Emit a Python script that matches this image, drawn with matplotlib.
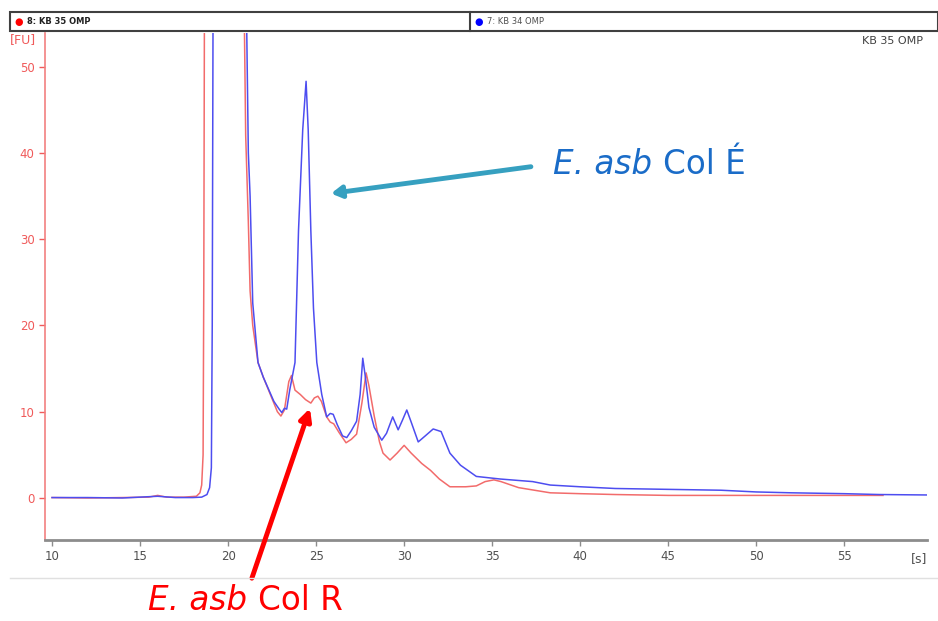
import matplotlib
matplotlib.use("Agg")
import matplotlib.pyplot as plt
from matplotlib.patches import Rectangle
from matplotlib.lines import Line2D

# KB 35 OMP (red) - time [s], fluorescence [FU]
red_t = [10, 12, 14, 15.5, 16, 16.5, 17.5, 18.2, 18.4, 18.5, 18.58, 18.62, 18.66, 18.8,
         20.8, 20.93, 21.0, 21.15, 21.25, 21.4, 21.7, 22.0, 22.3, 22.6, 22.8, 23.0, 23.2,
         23.45, 23.6, 23.8, 24.1, 24.4, 24.7, 24.9, 25.1, 25.3, 25.6, 25.8, 26.0, 26.3,
         26.7, 27.0, 27.3, 27.6, 27.84, 28.0, 28.3, 28.6, 28.8, 29.2, 29.6, 30.0, 30.4,
         31.0, 31.5, 32.0, 32.6, 33.5, 34.1, 34.6, 35.1, 35.5, 36.5, 38.3, 40, 42, 45,
         48, 50, 53, 55, 57.2]
red_fu = [0.05, 0.0, 0.05, 0.1, 0.3, 0.1, 0.1, 0.2, 0.6, 1.5, 5, 25, 60, 150,
          150, 54, 42, 32, 24, 20, 15.7, 14.0, 12.5, 11.0, 10.0, 9.5, 10.2,
          13.5, 14.2, 12.5, 12.0, 11.4, 11.0, 11.6, 11.8, 11.2, 9.4, 8.8, 8.6, 7.6,
          6.4, 6.8, 7.4, 11.0, 14.5, 13.0, 9.5, 6.5, 5.2, 4.4, 5.2, 6.1, 5.2,
          4.0, 3.2, 2.2, 1.3, 1.3, 1.4, 1.9, 2.1, 1.9, 1.2, 0.6, 0.5, 0.4, 0.3,
          0.3, 0.3, 0.3, 0.3, 0.3]

# KB 34 OMP (blue)
blue_t = [10, 12, 14, 16, 17, 18, 18.5, 18.8, 18.95, 19.05, 19.1, 19.15, 19.3,
          20.9, 21.06, 21.15, 21.25, 21.4, 21.7, 22.0, 22.3, 22.6, 22.9, 23.05, 23.2,
          23.33, 23.5, 23.8, 24.0, 24.24, 24.43, 24.55, 24.7, 24.85, 25.04, 25.32, 25.6,
          25.8, 25.97, 26.2, 26.5, 26.74, 27.0, 27.3, 27.5, 27.65, 27.8, 28.0, 28.3,
          28.73, 29.0, 29.35, 29.66, 29.9, 30.15, 30.4, 30.8, 31.2, 31.65, 32.1, 32.6,
          33.2, 34.1, 35.45, 37.3, 38.3, 40, 42, 45, 48, 50, 52, 55, 57, 59.7]
blue_fu = [0.05, 0.05, 0.0, 0.2, 0.05, 0.05, 0.1, 0.4, 1.2, 3.5, 20, 60, 150,
           150, 54, 40, 35, 22.6, 15.7, 14.0, 12.6, 11.2, 10.3, 9.9, 10.4,
           10.3, 12.5, 15.7, 31, 42.7, 48.3, 42.7, 31, 22, 15.7, 12.0, 9.4,
           9.8, 9.7, 8.5, 7.2, 7.0, 7.8, 8.9, 12.0, 16.2, 14.0, 10.5, 8.2,
           6.7, 7.5, 9.4, 7.9, 9.0, 10.2, 8.8, 6.5, 7.2, 8.0, 7.7, 5.2,
           3.8, 2.5, 2.2, 1.9, 1.5, 1.3, 1.1, 1.0, 0.9, 0.7, 0.6, 0.5, 0.4, 0.35]

x_ticks = [10, 15, 20, 25, 30, 35, 40, 45, 50, 55]
y_ticks = [0, 10, 20, 30, 40, 50]

W, H = 938, 621
fig = plt.figure(figsize=(W / 100, H / 100), dpi=100)
ax = fig.add_axes([45 / W, 1 - 540 / H, 882 / W, 507 / H])

ax.plot(red_t, red_fu, color="#f26b6b", lw=1.1)
ax.plot(blue_t, blue_fu, color="#4d4df0", lw=1.1)

ax.set_xlim(9.6, 59.7)
ax.set_ylim(-4.87, 53.9)
ax.set_xticks(x_ticks)
ax.set_yticks(y_ticks)

for side in ["top", "right"]:
    ax.spines[side].set_visible(False)
ax.spines["left"].set_color("#f28080")
ax.spines["left"].set_linewidth(1.2)
ax.spines["bottom"].set_color("#8c8c8c")
ax.spines["bottom"].set_linewidth(2)
ax.tick_params(axis="y", colors="#f05a5a", labelsize=8.5, length=4, width=1)
ax.tick_params(axis="x", colors="#8c8c8c", labelcolor="#505050", labelsize=8.5,
               length=4, width=1)

ax.text(-0.04, 1.0, "[FU]", transform=ax.transAxes, color="#f05a5a", fontsize=9,
        ha="left", va="top")
ax.text(0.995, 0.995, "KB 35 OMP", transform=ax.transAxes, color="#404040",
        fontsize=8, ha="right", va="top")
ax.text(1.0, -0.024, "[s]", transform=ax.transAxes, color="#505050", fontsize=9,
        ha="right", va="top")

# header strip with sample names
fig.patches.append(Rectangle((10 / W, 1 - 31 / H), 928 / W, 19 / H,
                             transform=fig.transFigure, fill=False,
                             edgecolor="#404040", lw=1.5))
fig.add_artist(Line2D([470 / W, 470 / W], [1 - 31 / H, 1 - 12 / H],
                      transform=fig.transFigure, color="#404040", lw=1.5))
fig.add_artist(Line2D([10 / W, 1], [1 - 578 / H, 1 - 578 / H],
                      transform=fig.transFigure, color="#e0e0e0", lw=1))
fig.text(19 / W, 1 - 21.5 / H, "●", color="#ff0000", fontsize=7, ha="center", va="center")
fig.text(27 / W, 1 - 21.5 / H, "8: KB 35 OMP", color="#202020", fontsize=6,
         fontweight="bold", ha="left", va="center")
fig.text(479 / W, 1 - 21.5 / H, "●", color="#0000ff", fontsize=7, ha="center", va="center")
fig.text(487 / W, 1 - 21.5 / H, "7: KB 34 OMP", color="#505050", fontsize=6,
         ha="left", va="center")

# annotations
ax.annotate("", xy=(25.85, 35.3), xytext=(37.2, 38.4),
            arrowprops=dict(arrowstyle="-|>,head_length=0.6,head_width=0.35",
                            color="#36a0c0", lw=3.5, shrinkA=0, shrinkB=0))
ax.annotate("", xy=(24.65, 10.4), xytext=(21.35, -9.3), annotation_clip=False,
            arrowprops=dict(arrowstyle="-|>,head_length=0.7,head_width=0.35",
                            color="#ff0000", lw=3.5, shrinkA=0, shrinkB=0))


def label(x, y, tail, color, size):
    t1 = fig.text(x / W, 1 - y / H, "E. asb", family="DejaVu Sans", style="italic",
                  fontsize=size, color=color, ha="left", va="center")
    fig.canvas.draw()
    bb = t1.get_window_extent()
    fig.text((bb.x1 + 11) / W, 1 - y / H, tail, family="DejaVu Sans",
             fontsize=size, color=color, ha="left", va="center")


label(553, 164, "Col É", "#1a6cc8", 23.5)
label(148, 601, "Col R", "#ff0000", 23.5)

fig.savefig("out.png", dpi=100)
